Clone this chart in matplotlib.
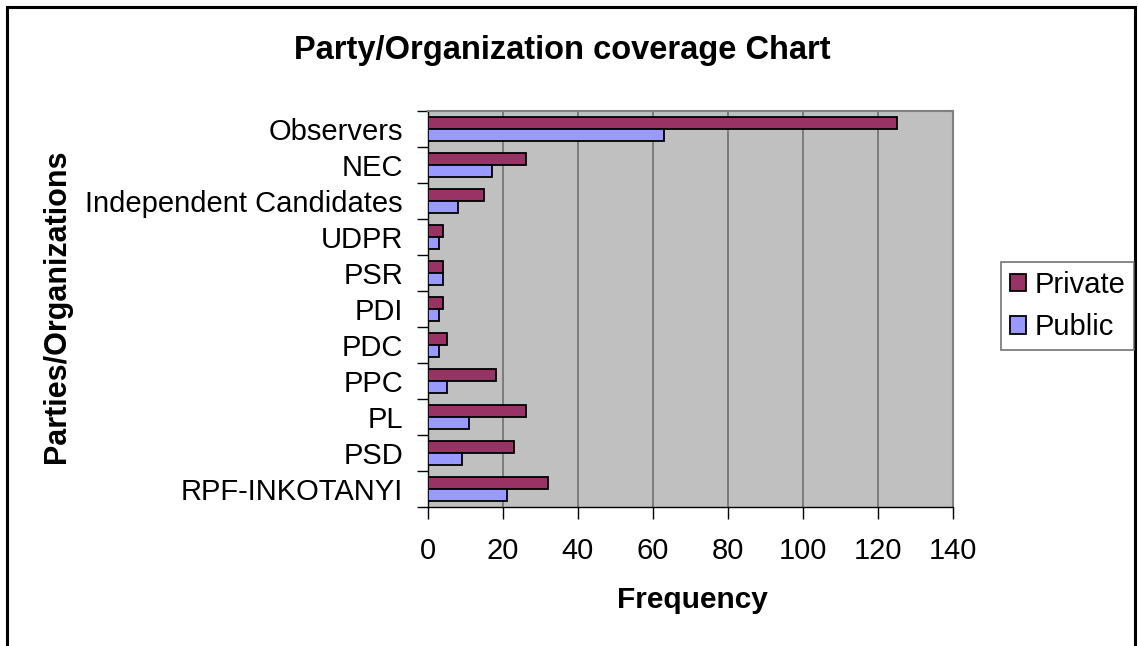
import numpy as np
import matplotlib
matplotlib.use("Agg")
import matplotlib.pyplot as plt
from matplotlib.patches import Rectangle

# categories listed bottom -> top as drawn
categories = ["RPF-INKOTANYI", "PSD", "PL", "PPC", "PDC", "PDI", "PSR",
              "UDPR", "Independent Candidates", "NEC", "Observers"]
private = [32, 23, 26, 18, 5, 4, 4, 4, 15, 26, 125]
public = [21, 9, 11, 5, 3, 3, 4, 3, 8, 17, 63]
x_ticks = [0, 20, 40, 60, 80, 100, 120, 140]

plt.rcParams['font.family'] = ['Liberation Sans', 'DejaVu Sans']
FS = 21

W, H = 1138, 646
fig = plt.figure(figsize=(W / 100, H / 100), dpi=100)
ax = fig.add_axes([428 / W, 1 - 507 / H, (953 - 428) / W, (507 - 111) / H])
ax.set_facecolor("#C0C0C0")

y = np.arange(len(categories))
bh = 0.32
ax.barh(y + bh / 2, private, height=bh, color="#993366", edgecolor="black",
        linewidth=1.3, label="Private", zorder=3)
ax.barh(y - bh / 2, public, height=bh, color="#9999FF", edgecolor="black",
        linewidth=1.3, label="Public", zorder=3)

ax.set_xlim(0, 140)
ax.set_ylim(-0.5, len(categories) - 0.5)
ax.set_xticks(x_ticks)
ax.set_xticklabels([str(v) for v in x_ticks], fontsize=FS)
ax.set_yticks(y)
ax.set_yticklabels(categories, fontsize=FS)
ax.set_yticks(np.arange(-0.5, len(categories), 1.0), minor=True)
ax.tick_params(axis="y", which="major", length=0, pad=18)
ax.tick_params(axis="y", which="minor", length=8, width=1, direction="out")
ax.tick_params(axis="x", which="major", length=8.5, width=1, direction="out", pad=13)
ax.xaxis.grid(True, color="#707070", linewidth=1.2, zorder=1)
ax.set_axisbelow(True)

for s in ["left", "bottom"]:
    ax.spines[s].set_color("black")
    ax.spines[s].set_linewidth(1)
for s in ["top", "right"]:
    ax.spines[s].set_color("#808080")
    ax.spines[s].set_linewidth(1.5)

fig.text(562 / W, 1 - 50 / H, "Party/Organization coverage Chart",
         fontsize=23.5, fontweight="bold", ha="center", va="center")
fig.text(57 / W, 1 - 306 / H, "Parties/Organizations", fontsize=22,
         fontweight="bold", rotation=90, ha="center", va="center")
fig.text(692 / W, 1 - 600 / H, "Frequency", fontsize=21.5,
         fontweight="bold", ha="center", va="center")

leg = fig.legend(loc="upper left", bbox_to_anchor=(1001 / W, 1 - 262 / H),
                 fontsize=FS, frameon=True, fancybox=False, handlelength=0.55,
                 handleheight=0.55, handletextpad=0.3, borderpad=0.3,
                 labelspacing=0.5, borderaxespad=0)
leg.get_frame().set_edgecolor("#606060")
leg.get_frame().set_linewidth(1.3)

# outer chart border
fig.patches.append(Rectangle((7 / W, -0.05), (1135 - 7) / W, 1.05 - 7 / H,
                             transform=fig.transFigure, fill=False,
                             edgecolor="black", linewidth=2.2))

fig.savefig("out.png", dpi=100)
